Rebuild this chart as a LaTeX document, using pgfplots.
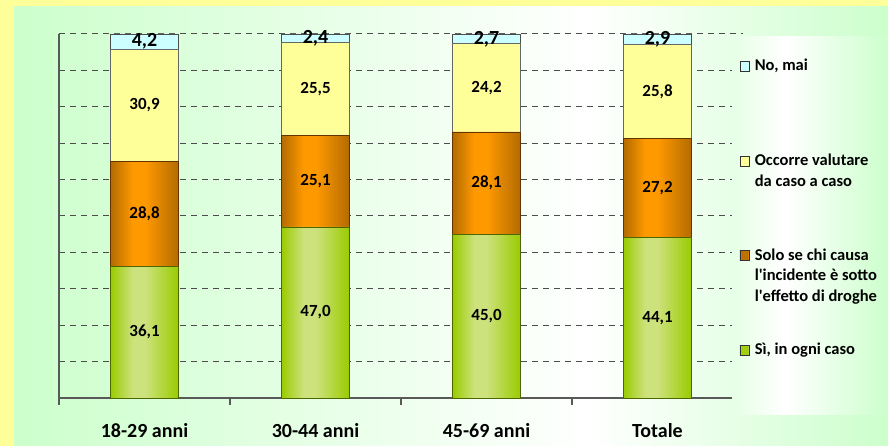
\documentclass[border=0pt]{standalone}
\usepackage{fontspec}
\setmainfont{Carlito}
\usepackage{pgfplots}
\pgfplotsset{compat=1.18}
\usepackage{pgfplotstable}

\definecolor{bgyellow}{HTML}{FFFF99}
\definecolor{bggreen}{HTML}{CCFFCC}
\definecolor{gEdge}{HTML}{99CC00}
\definecolor{gMid}{HTML}{CDE17C}
\definecolor{gLine}{HTML}{4D6600}
\definecolor{oEdge}{HTML}{B36B00}
\definecolor{oMid}{HTML}{FF9900}
\definecolor{oLine}{HTML}{663300}
\definecolor{yFill}{HTML}{FFFF99}
\definecolor{bFill}{HTML}{CCFFFF}

\pgfdeclarehorizontalshading{panel}{100bp}{color(0bp)=(bggreen); color(25bp)=(bggreen); color(58bp)=(white); color(75bp)=(bggreen); color(100bp)=(bggreen)}
\pgfdeclarehorizontalshading{legbox}{100bp}{color(0bp)=(bggreen!50); color(25bp)=(bggreen!50); color(42bp)=(white); color(75bp)=(bggreen); color(100bp)=(bggreen)}

% one bar path spans the four bars: edge-light-light-edge stops for each bar
\newcommand{\barshading}[3]{%
  \pgfdeclarehorizontalshading{#1}{100bp}{color(0bp)=(#2); color(25bp)=(#2); color(26.9bp)=(#3); color(28.0bp)=(#3); color(30.852bp)=(#2);
    color(39.716bp)=(#2); color(41.6bp)=(#3); color(42.7bp)=(#3); color(45.568bp)=(#2);
    color(54.432bp)=(#2); color(56.3bp)=(#3); color(57.4bp)=(#3); color(60.284bp)=(#2);
    color(69.148bp)=(#2); color(71.0bp)=(#3); color(72.1bp)=(#3); color(75bp)=(#2); color(100bp)=(#2)}}
\barshading{gbars}{gEdge}{gMid}
\barshading{obars}{oEdge}{oMid}

% percentuali per fascia d'eta
\pgfplotstableread{
x a b c d
0 36.1 28.8 30.9 4.2
1 47.0 25.1 25.5 2.4
2 45.0 28.1 24.2 2.7
3 44.1 27.2 25.8 2.9
}\sondaggio

\newcommand{\legtext}[1]{\parbox[t]{200pt}{\raggedright #1}}

\begin{document}
\begin{tikzpicture}
\useasboundingbox (0,0) rectangle (888pt,446pt);
\fill[bgyellow] (0,0) rectangle (888pt,446pt);
\shade[shading=panel] (14pt,0) rectangle (888pt,439pt);
\begin{axis}[
  at={(59pt,48pt)}, anchor=south west,
  scale only axis, width=684pt, height=364pt,
  clip=false,
  ybar stacked, bar width=68pt,
  xmin=-0.5, xmax=3.5, ymin=0, ymax=100,
  axis x line*=bottom, axis y line*=left,
  axis line style={draw=black!65, line width=1.2pt},
  xtick={-0.5,0.5,1.5,2.5,3.5},
  x tick label as interval,
  xticklabels={18-29 anni,30-44 anni,45-69 anni,Totale},
  xticklabel style={font=\fontsize{20}{24}\selectfont\bfseries, anchor=base, yshift=-33pt},
  tick align=outside,
  major tick length=7pt,
  major x tick style={draw=black!65, line width=1.2pt},
  ytick={0,10,...,100}, yticklabels={},
  major y tick style={draw=none},
  ymajorgrids,
  major grid style={draw=black!70, line width=1pt, dash pattern=on 6pt off 5pt},
  point meta=explicit,
  nodes near coords,
  nodes near coords style={font=\fontsize{17}{20}\selectfont\bfseries, text=black, anchor=center},
  /pgf/number format/use comma,
  /pgf/number format/fixed,
  /pgf/number format/fixed zerofill,
  /pgf/number format/precision=1,
  /pgf/number format/assume math mode=true,
  legsq/.style 2 args={legend image code/.code={\draw[fill=#1, draw=#2, line width=0.8pt] (0pt,-0.5pt) rectangle (9pt,9.5pt);}},
  reverse legend,
  legend style={at={(rel axis cs:0.9946,0.9321)}, anchor=north west, draw=none, fill=none,
    inner sep=0pt, column sep=5.5pt, row sep=0pt,
    font=\fontsize{16.5}{20.6}\selectfont\bfseries,
    cells={anchor=base west},
    nodes={inner sep=0pt, text height=12pt, text depth=82.6pt}},
]
\addplot[draw=gLine, line width=0.8pt, shade, shading=gbars, legsq={gEdge!60!gMid}{black!80}]
  table[x=x, y=a, meta=a] {\sondaggio};
\addlegendentry{\legtext{Sì, in ogni caso}}
\addplot[draw=oLine, line width=0.8pt, shade, shading=obars, legsq={oMid}{black!80}]
  table[x=x, y=b, meta=b] {\sondaggio};
\addlegendentry{\legtext{Solo se chi causa\\l\textquotesingle incidente è sotto\\l\textquotesingle effetto di droghe}}
\addplot[draw=black!60, line width=0.8pt, fill=yFill, legsq={yFill}{black!80}]
  table[x=x, y=c, meta=c] {\sondaggio};
\addlegendentry{\legtext{Occorre valutare\\da caso a caso}}
\addplot[draw=black!70, line width=0.8pt, fill=bFill, legsq={bFill}{black!80},
  nodes near coords style={font=\fontsize{20}{24}\selectfont\bfseries}]
  table[x=x, y=d, meta=d] {\sondaggio};
\addlegendentry{\legtext{No, mai}}
\shade[shading=legbox] (rel axis cs:0.98392,-0.0467) rectangle (rel axis cs:1.21199,0.9918);
\end{axis}
\end{tikzpicture}
\end{document}
